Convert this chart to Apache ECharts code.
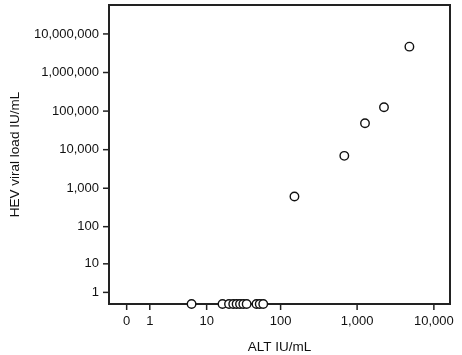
<!DOCTYPE html>
<html>
<head>
<meta charset="utf-8">
<script src="https://cdn.jsdelivr.net/npm/echarts@6/dist/echarts.min.js"></script>
<style>html,body{margin:0;padding:0;background:#fff}#c{width:462px;height:355px}</style>
</head>
<body>
<div id="c"></div>
<script>
// Raw data (ALT IU/mL, HEV viral load IU/mL); axes use log10(v+1)
var altValues = [6, 16.7, 20.5, 23.4, 26, 28.9, 32, 35.5, 48, 53, 59, 152, 681, 1267, 2240, 4800];
var viralLoad = [0, 0, 0, 0, 0, 0, 0, 0, 0, 0, 0, 611, 6920, 48600, 126000, 4680000];
var xTicks = [0, 1, 10, 100, 1000, 10000];
var yTicks = [1, 10, 100, 1000, 10000, 100000, 1000000, 10000000];

var X_MIN = -0.23, X_MAX = 4.21, Y_MIN = 0, Y_MAX = 7.75;

function tf(v) { return Math.log10(v + 1); }
function txt(v) { return Math.round(Math.pow(10, v) - 1).toLocaleString('en-US'); }

var points = altValues.map(function (a, i) { return [tf(a), tf(viralLoad[i])]; });
var font = 'Liberation Sans, Arial, sans-serif';

var chart = echarts.init(document.getElementById('c'), null, { renderer: 'canvas' });
chart.setOption({
  animation: false,
  grid: { left: 109, right: 12, top: 5, bottom: 51, containLabel: false, outerBoundsMode: 'none', show: true, borderColor: '#222', borderWidth: 2, backgroundColor: 'transparent' },
  xAxis: {
    type: 'value', min: X_MIN, max: X_MAX,
    name: 'ALT IU/mL', nameLocation: 'middle', nameGap: 36,
    nameTextStyle: { fontFamily: font, fontSize: 13.5, color: '#111' },
    axisLine: { show: true, onZero: false, lineStyle: { color: '#222', width: 2 } },
    axisTick: { show: false },
    axisLabel: {
      show: true, customValues: xTicks.map(tf), margin: 1,
      formatter: function (v) { return '{t| }\n{v|' + txt(v) + '}'; },
      rich: {
        t: { width: 1.5, height: 5, lineHeight: 5, fontSize: 1, backgroundColor: '#222', align: 'center' },
        v: { fontFamily: font, fontSize: 13, lineHeight: 22, color: '#111', align: 'center' }
      }
    },
    splitLine: { show: false }
  },
  yAxis: {
    type: 'value', min: Y_MIN, max: Y_MAX,
    name: 'HEV viral load IU/mL', nameLocation: 'middle', nameGap: 87,
    nameTextStyle: { fontFamily: font, fontSize: 13.5, color: '#111' },
    axisLine: { show: true, onZero: false, lineStyle: { color: '#222', width: 2 } },
    axisTick: { show: false },
    axisLabel: {
      show: true, customValues: yTicks.map(tf), margin: 1,
      formatter: function (v) { return '{v|' + txt(v) + '}{t| }'; },
      rich: {
        t: { width: 5, height: 1.5, fontSize: 1, backgroundColor: '#222', verticalAlign: 'middle' },
        v: { fontFamily: font, fontSize: 13, lineHeight: 16, color: '#111', padding: [0, 4, 0, 0], verticalAlign: 'middle' }
      }
    },
    splitLine: { show: false }
  },
  series: [
    {
      type: 'scatter', data: points, symbol: 'circle', symbolSize: 8.5, clip: false, z: 5,
      itemStyle: { color: '#fff', borderColor: '#111', borderWidth: 1.4, opacity: 1 }
    }
  ]
});
</script>
</body>
</html>
